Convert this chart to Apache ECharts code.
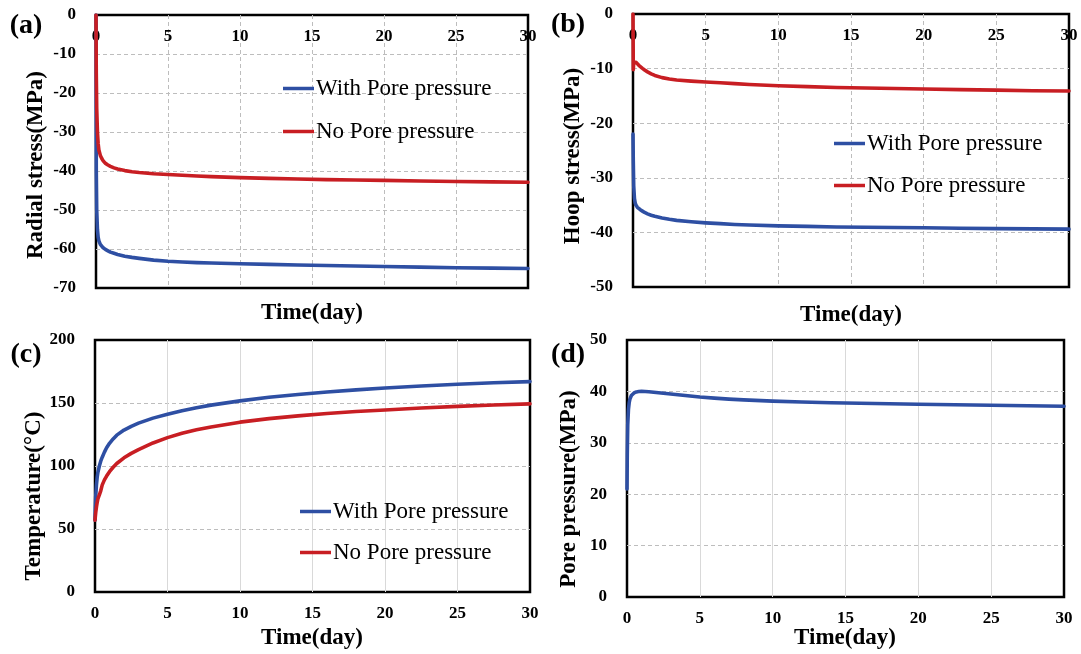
<!DOCTYPE html>
<html>
<head>
<meta charset="utf-8">
<script src="https://cdn.jsdelivr.net/npm/echarts@6/dist/echarts.min.js"></script>
<style>
html,body{margin:0;padding:0;background:#fff;}
#chart{width:1081px;height:654px;}
</style>
</head>
<body>
<div id="chart"></div>
<script>
// ---------- data ----------
const days = [0, 0.02, 0.05, 0.1, 0.15, 0.2, 0.3, 0.4, 0.5, 0.65, 0.8, 1, 1.25, 1.5, 2, 2.5, 3, 4, 5, 6, 7, 8, 10, 12, 14, 16, 18, 20, 22.5, 25, 27.5, 30];

const radialWith = [0, -40, -50, -55, -57, -57.9, -58.8, -59.3, -59.7, -60.1, -60.4, -60.8, -61.1, -61.4, -61.85, -62.15, -62.4, -62.85, -63.15, -63.35, -63.5, -63.6, -63.8, -63.95, -64.1, -64.25, -64.35, -64.5, -64.65, -64.8, -64.9, -65.0];
const radialNo   = [0, -15, -24, -30, -33, -34.6, -36.0, -36.8, -37.4, -38.0, -38.4, -38.8, -39.2, -39.5, -39.9, -40.2, -40.4, -40.7, -40.9, -41.1, -41.3, -41.45, -41.7, -41.9, -42.05, -42.2, -42.3, -42.4, -42.55, -42.7, -42.8, -42.9];

const hoopWith = [-22, -27, -31.5, -33.8, -34.6, -35.0, -35.4, -35.65, -35.85, -36.1, -36.35, -36.6, -36.85, -37.05, -37.35, -37.6, -37.8, -38.05, -38.25, -38.4, -38.55, -38.65, -38.8, -38.9, -39.0, -39.05, -39.1, -39.15, -39.25, -39.3, -39.35, -39.4];
const hoopNo   = [0, -10.2, -8.8, -8.7, -8.75, -8.85, -9.1, -9.4, -9.65, -9.95, -10.25, -10.6, -10.95, -11.25, -11.65, -11.9, -12.1, -12.3, -12.45, -12.6, -12.75, -12.9, -13.15, -13.3, -13.45, -13.55, -13.65, -13.75, -13.85, -13.95, -14.05, -14.1];

const tempWith = [57, 66, 76, 85, 91, 95, 100, 104, 107, 111, 114.5, 118, 121.5, 124.5, 128.5, 131.5, 134, 138, 141, 143.8, 146.2, 148.3, 151.7, 154.5, 156.8, 158.7, 160.4, 161.9, 163.5, 164.9, 166.1, 167];
const tempNo   = [57, 59.5, 63, 67.5, 71, 74, 77, 80.5, 85, 89, 92, 95.5, 99, 102, 106.5, 110, 113, 118.3, 122.5, 126, 128.8, 131, 134.8, 137.6, 139.8, 141.7, 143.2, 144.5, 146, 147.3, 148.4, 149.3];

const porePressure = [21, 28, 33.5, 36.5, 37.8, 38.5, 39.2, 39.55, 39.75, 39.9, 39.97, 40.0, 39.97, 39.92, 39.8, 39.65, 39.5, 39.2, 38.9, 38.7, 38.5, 38.35, 38.1, 37.95, 37.8, 37.7, 37.6, 37.5, 37.4, 37.3, 37.2, 37.1];

const dayTicks    = [0, 5, 10, 15, 20, 25, 30];
const radialTicks = [-70, -60, -50, -40, -30, -20, -10, 0];
const hoopTicks   = [-50, -40, -30, -20, -10, 0];
const tempTicks   = [0, 50, 100, 150, 200];
const poreTicks   = [0, 10, 20, 30, 40, 50];

const seriesNames = ['With Pore pressure', 'No Pore pressure'];
const panelLabels = ['(a)', '(b)', '(c)', '(d)'];
const yTitles = ['Radial stress(MPa)', 'Hoop stress(MPa)', 'Temperature(\u00B0C)', 'Pore pressure(MPa)'];
const xTitle = 'Time(day)';

// ---------- helpers ----------
const FONT = "'Liberation Serif', 'Times New Roman', serif";
const BLUE = '#2E4FA3';
const RED = '#C81E23';

function zip(xs, ys) { return xs.map((x, i) => [x, ys[i]]); }
function range(t) { return { min: t[0], max: t[t.length - 1], interval: t[1] - t[0] }; }

const dashed = { show: true, showMinLine: false, showMaxLine: false, lineStyle: { color: '#BDBDBD', type: [4, 3], width: 1 } };
const solidLight = { show: true, showMinLine: false, showMaxLine: false, lineStyle: { color: '#D9D9D9', type: 'solid', width: 1 } };
const tickLabel = { color: '#000', fontFamily: FONT, fontWeight: 'bold', fontSize: 17 };

function xAxisCfg(gi, top, split) {
  const r = range(dayTicks);
  return {
    type: 'value', gridIndex: gi, min: r.min, max: r.max, interval: r.interval,
    position: top ? 'top' : 'bottom',
    axisLine: { show: false }, axisTick: { show: false },
    axisLabel: Object.assign({ inside: top, margin: top ? 13 : 13 }, tickLabel),
    splitLine: split
  };
}
function yAxisCfg(gi, ticks) {
  const r = range(ticks);
  return {
    type: 'value', gridIndex: gi, min: r.min, max: r.max, interval: r.interval,
    axisLine: { show: false }, axisTick: { show: false },
    axisLabel: Object.assign({ margin: 20 }, tickLabel),
    splitLine: dashed
  };
}
function line(name, gi, data, color) {
  return {
    type: 'line', name: name, xAxisIndex: gi, yAxisIndex: gi, data: data,
    showSymbol: false, symbol: 'none', smooth: false,
    lineStyle: { color: color, width: 3.6, join: 'round', cap: 'round' },
    itemStyle: { color: color }, color: color
  };
}
function legendCfg(left, top, gap) {
  return {
    data: seriesNames, orient: 'vertical', left: left, top: top, itemGap: gap,
    icon: 'rect', itemWidth: 31, itemHeight: 3.5,
    textStyle: { fontFamily: FONT, fontSize: 23, color: '#000', padding: [0, 0, 0, -3] },
    selectedMode: false
  };
}
function txt(x, y, s, size, rot) {
  return {
    type: 'text', x: x, y: y, rotation: rot || 0, z: 100,
    style: { text: s, fontFamily: FONT, fontWeight: 'bold', fontSize: size, fill: '#000',
             textAlign: 'center', textVerticalAlign: 'middle' }
  };
}

const gridBase = { show: true, borderColor: '#000', borderWidth: 2.5, backgroundColor: 'transparent', containLabel: false };

const option = {
  backgroundColor: '#fff',
  animation: false,
  grid: [
    Object.assign({ left: 96, top: 15, width: 432, height: 273 }, gridBase),
    Object.assign({ left: 633, top: 14, width: 436, height: 273 }, gridBase),
    Object.assign({ left: 95, top: 340, width: 435, height: 252 }, gridBase),
    Object.assign({ left: 627, top: 340, width: 437, height: 257 }, gridBase)
  ],
  xAxis: [
    xAxisCfg(0, true, dashed),
    xAxisCfg(1, true, dashed),
    xAxisCfg(2, false, solidLight),
    xAxisCfg(3, false, solidLight)
  ],
  yAxis: [
    yAxisCfg(0, radialTicks),
    yAxisCfg(1, hoopTicks),
    yAxisCfg(2, tempTicks),
    yAxisCfg(3, poreTicks)
  ],
  legend: [
    legendCfg(278, 72, 20),
    legendCfg(829, 127, 19),
    legendCfg(295, 495, 18)
  ],
  series: [
    line(seriesNames[0], 0, zip(days, radialWith), BLUE),
    line(seriesNames[1], 0, zip(days, radialNo), RED),
    line(seriesNames[0], 1, zip(days, hoopWith), BLUE),
    line(seriesNames[1], 1, zip(days, hoopNo), RED),
    line(seriesNames[0], 2, zip(days, tempWith), BLUE),
    line(seriesNames[1], 2, zip(days, tempNo), RED),
    line('Pore pressure', 3, zip(days, porePressure), BLUE)
  ],
  graphic: [
    txt(26, 26, panelLabels[0], 28),
    txt(568, 25, panelLabels[1], 28),
    txt(26, 355, panelLabels[2], 28),
    txt(568, 355, panelLabels[3], 28),
    txt(312, 313, xTitle, 23),
    txt(851, 315, xTitle, 23),
    txt(312, 638, xTitle, 23),
    txt(845, 638, xTitle, 23),
    txt(36, 165, yTitles[0], 23, Math.PI / 2),
    txt(573, 156, yTitles[1], 23, Math.PI / 2),
    txt(34, 496, yTitles[2], 23, Math.PI / 2),
    txt(569, 489, yTitles[3], 23, Math.PI / 2)
  ]
};

const chart = echarts.init(document.getElementById('chart'), null, { renderer: 'canvas' });
chart.setOption(option);
</script>
</body>
</html>
